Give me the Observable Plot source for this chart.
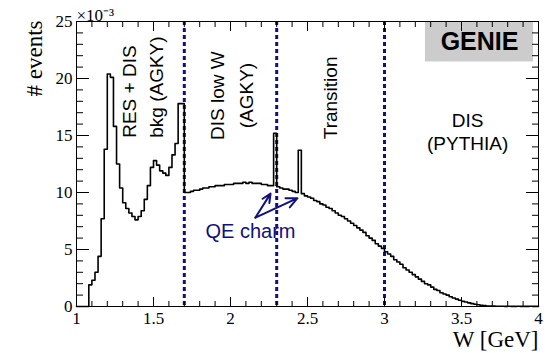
<!DOCTYPE html>
<html><head><meta charset="utf-8">
<script src="https://cdn.jsdelivr.net/npm/d3@7"></script>
<script src="https://cdn.jsdelivr.net/npm/@observablehq/plot@0.6"></script>
<style>body{margin:0;background:#fff} #chart svg{display:block}</style>
</head><body><div id="chart"></div>
<script>
// Histogram: bins of width 0.02 GeV from 1.00 to 4.00; values in units of 10^-3
const binLeftEdges = d3.range(150).map(i => +(1 + i * 0.02).toFixed(2));
const histEnd = 4.0;
const events = [
  0, 0, 0, 0, 1.9, 2.3, 3.0, 4.4, 7.7, 13.8,
  20.4, 20.1, 15.8, 12.5, 10.4, 9.1, 8.6, 8.2, 7.9, 7.6,
  7.9, 8.4, 9.4, 10.6, 12.2, 12.8, 12.4, 11.9, 11.7, 11.5,
  12.2, 13.3, 14.3, 17.8, 17.8, 10.0, 10.0, 10.1, 10.2, 10.2,
  10.3, 10.4, 10.4, 10.5, 10.5, 10.6, 10.6, 10.6, 10.7, 10.7,
  10.7, 10.8, 10.8, 10.8, 10.9, 10.8, 10.9, 10.8, 10.8, 10.8,
  10.7, 10.7, 10.6, 10.6, 15.2, 10.5, 10.4, 10.3, 10.3, 10.2,
  10.1, 10.0, 13.7, 9.9, 9.7, 9.6, 9.5, 9.3, 9.2, 9.0,
  8.9, 8.7, 8.6, 8.4, 8.2, 8.0, 7.9, 7.7, 7.5, 7.3,
  7.1, 6.9, 6.7, 6.5, 6.2, 6.0, 5.8, 5.5, 5.3, 5.1,
  4.8, 4.6, 4.4, 4.1, 3.9, 3.7, 3.4, 3.2, 3.0, 2.8,
  2.6, 2.4, 2.2, 2.0, 1.9, 1.7, 1.5, 1.4, 1.2, 1.1,
  1.0, 0.85, 0.75, 0.65, 0.55, 0.45, 0.4, 0.32, 0.25, 0.2,
  0.15, 0.1, 0.08, 0.05, 0.04, 0.03, 0.02, 0.02, 0.02, 0.01,
  0.02, 0.01, 0.01, 0.02, 0.01, 0.01, 0.01, 0.02, 0.01, 0.01
];
const regionBounds = [1.7, 2.3, 3.0];
const xMajorTicks = [1, 1.5, 2, 2.5, 3, 3.5, 4];
const xMinorTicks = [1.1, 1.2, 1.3, 1.4, 1.6, 1.7, 1.8, 1.9, 2.1, 2.2, 2.3, 2.4, 2.6, 2.7, 2.8, 2.9, 3.1, 3.2, 3.3, 3.4, 3.6, 3.7, 3.8, 3.9];
const yMajorTicks = [0, 5, 10, 15, 20, 25];
const yMinorTicks = [1, 2, 3, 4, 6, 7, 8, 9, 11, 12, 13, 14, 16, 17, 18, 19, 21, 22, 23, 24];

// Annotations (data coordinates)
const rotatedLabels = [
  {text: "RES + DIS", x: 1.35, y: 14.8, anchor: "start"},
  {text: "bkg (AGKY)", x: 1.525, y: 14.8, anchor: "start"},
  {text: "DIS low W", x: 1.915, y: 18.5, anchor: "middle"},
  {text: "(AGKY)", x: 2.105, y: 18.5, anchor: "middle"},
  {text: "Transition", x: 2.655, y: 18.3, anchor: "middle"}
];
const pythiaLabels = [
  {text: "DIS", x: 3.54, y: 16.3},
  {text: "(PYTHIA)", x: 3.54, y: 14.3}
];
const qeLabel = [{text: "QE charm", x: 2.13, y: 6.6}];
const qeArrows = [
  {x1: 2.162, y1: 7.8, x2: 2.26, y2: 9.9},
  {x1: 2.162, y1: 7.8, x2: 2.435, y2: 9.5}
];
const genieBox = [{x1: 3.266, x2: 3.968, y1: 21.45, y2: 25, label: "GENIE", cx: 3.617, cy: 23.2}];

const histPoints = binLeftEdges.map((x, i) => ({x, y: events[i]}));
histPoints.push({x: histEnd, y: events[events.length - 1]});

const navy = "#10107f";
const sans = "Liberation Sans, Arial, sans-serif";
const serif = "Liberation Serif, Times New Roman, serif";

const chart = Plot.plot({
  width: 549,
  height: 353,
  marginLeft: 76,
  marginRight: 11,
  marginTop: 21,
  marginBottom: 47,
  style: {fontFamily: serif, fontSize: "17px", background: "#fff", color: "#000"},
  x: {domain: [1, 4]},
  y: {domain: [0, 25]},
  marks: [
    Plot.rect(genieBox, {x1: "x1", x2: "x2", y1: "y1", y2: "y2", fill: "#cccccc"}),
    Plot.text(genieBox, {x: "cx", y: "cy", text: "label", fontFamily: sans, fontWeight: "bold", fontSize: 25, fill: "#000"}),
    Plot.ruleX(regionBounds, {stroke: navy, strokeWidth: 3, strokeDasharray: "4,3"}),
    Plot.line(histPoints, {x: "x", y: "y", curve: "step-after", stroke: "#000", strokeWidth: 1.6}),
    Plot.axisX({ticks: xMajorTicks, tickSize: -9, tickPadding: 14, tickFormat: d => String(d), label: null}),
    Plot.axisX({ticks: xMinorTicks, tickSize: -5, fill: "none", label: null}),
    Plot.axisX({anchor: "top", ticks: xMajorTicks, tickSize: -9, fill: "none", label: null}),
    Plot.axisX({anchor: "top", ticks: xMinorTicks, tickSize: -5, fill: "none", label: null}),
    Plot.axisY({ticks: yMajorTicks, tickSize: -13, tickPadding: 17, tickFormat: d => String(d), label: null}),
    Plot.axisY({ticks: yMinorTicks, tickSize: -7, fill: "none", label: null}),
    Plot.axisY({anchor: "right", ticks: yMajorTicks, tickSize: -13, fill: "none", label: null}),
    Plot.axisY({anchor: "right", ticks: yMinorTicks, tickSize: -7, fill: "none", label: null}),
    Plot.frame({stroke: "#000", strokeWidth: 1}),
    ...rotatedLabels.map(d => Plot.text([d], {x: "x", y: "y", text: "text", rotate: -90, textAnchor: d.anchor, fontFamily: sans, fontSize: 19, fill: "#000"})),
    Plot.text(pythiaLabels, {x: "x", y: "y", text: "text", fontFamily: sans, fontSize: 19, fill: "#000"}),
    Plot.text(qeLabel, {x: "x", y: "y", text: "text", fontFamily: sans, fontSize: 20, fill: navy}),
    Plot.arrow(qeArrows, {x1: "x1", y1: "y1", x2: "x2", y2: "y2", stroke: navy, strokeWidth: 2, headLength: 9, headAngle: 50}),
    Plot.text(["×10⁻³"], {text: d => d, frameAnchor: "top-left", textAnchor: "start", lineAnchor: "bottom", dx: 0, dy: -1, fontFamily: serif, fontSize: 17, fill: "#000"}),
    Plot.text(["W [GeV]"], {text: d => d, frameAnchor: "bottom-right", textAnchor: "end", lineAnchor: "middle", dy: 33, fontFamily: serif, fontSize: 23, fill: "#000"}),
    Plot.text(["# events"], {text: d => d, frameAnchor: "top-left", rotate: -90, textAnchor: "end", dx: -51, dy: -1, fontFamily: serif, fontSize: 23, fill: "#000"})
  ]
});
document.getElementById("chart").appendChild(chart);
</script>
</body></html>
